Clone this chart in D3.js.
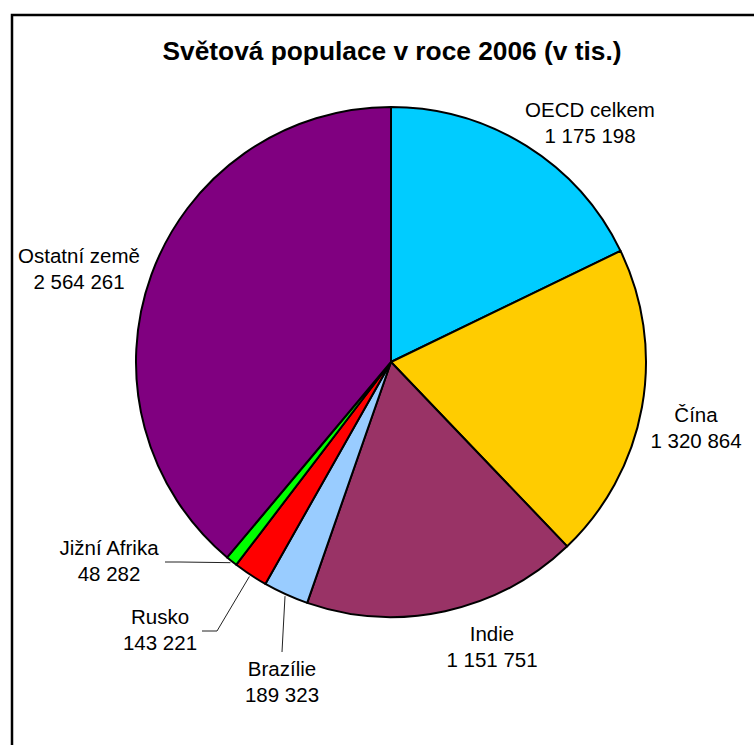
<!DOCTYPE html>
<html>
<head>
<meta charset="utf-8">
<script src="https://cdn.jsdelivr.net/npm/d3@7"></script>
<style>
  body { margin: 0; background: #fff; }
  svg { display: block; font-family: Arial, "Liberation Sans", sans-serif; }
</style>
</head>
<body>
<div id="viz"></div>
<script>
'use strict';

const width = 754;
const height = 745;

// data, clockwise from 12 o'clock
const names = ["OECD celkem", "Čína", "Indie", "Brazílie", "Rusko", "Jižní Afrika", "Ostatní země"];
const values = [1175198, 1320864, 1151751, 189323, 143221, 48282, 2564261];
const colors = ["#00ccff", "#ffcc00", "#993366", "#99ccff", "#ff0000", "#00ff00", "#800080"];
const title = "Světová populace v roce 2006 (v tis.)";

// label placement (centre x, first baseline y) and leader style per slice
const labelPos = {
    "OECD celkem": [590, 117],
    "Čína": [696, 422],
    "Indie": [492, 641],
    "Brazílie": [282, 676],
    "Rusko": [160, 624],
    "Jižní Afrika": [109, 555],
    "Ostatní země": [79, 263]
};
const leaders = { "Brazílie": "up", "Rusko": "side", "Jižní Afrika": "side" };

const cx = 391, cy = 362, radius = 255;
const lineGap = 26;

const fmt = v => d3.format(",")(v).replace(/,/g, " ");

const svg = d3.select("#viz")
    .append("svg")
    .attr("width", width)
    .attr("height", height);

svg.append("rect")
    .attr("width", width)
    .attr("height", height)
    .attr("fill", "#fff");

// chart frame (runs off the right and bottom edges)
svg.append("path")
    .attr("d", `M12,${height + 5} V15 H${width + 5}`)
    .attr("fill", "none")
    .attr("stroke", "#000")
    .attr("stroke-width", 2.5);

svg.append("text")
    .attr("x", 392)
    .attr("y", 60)
    .attr("text-anchor", "middle")
    .attr("font-size", 26.3)
    .attr("font-weight", "bold")
    .text(title);

const slices = names.map((n, i) => ({ name: n, value: values[i], color: colors[i] }));

const pie = d3.pie()
    .sort(null)
    .value(d => d.value);

const arc = d3.arc()
    .innerRadius(0)
    .outerRadius(radius);

const arcs = pie(slices);

const g = svg.append("g")
    .attr("transform", `translate(${cx},${cy})`);

g.selectAll("path")
    .data(arcs)
    .enter()
    .append("path")
    .attr("d", arc)
    .attr("fill", d => d.data.color)
    .attr("stroke", "#000")
    .attr("stroke-width", 2)
    .attr("stroke-linejoin", "round");

// leader lines for the thin slices
arcs.forEach(d => {
    const kind = leaders[d.data.name];
    if (!kind) return;
    const mid = (d.startAngle + d.endAngle) / 2;
    const ex = cx + (radius + 2) * Math.sin(mid);
    const ey = cy - (radius + 2) * Math.cos(mid);
    const [lx, ly] = labelPos[d.data.name];
    let pts;
    if (kind === "side") {
        const sx = lx + (d.data.name === "Rusko" ? 42 : 56);
        const sy = ly + 7;
        pts = [[sx, sy], [sx + 15, sy], [ex, ey]];
    } else {
        const sx = lx;
        const sy = ly - 24;
        pts = [[sx, sy], [sx + 1, sy - 19], [ex, ey]];
    }
    svg.append("path")
        .attr("d", d3.line()(pts))
        .attr("fill", "none")
        .attr("stroke", "#222")
        .attr("stroke-width", 1);
});

const labels = svg.append("g")
    .attr("font-size", 20.5)
    .attr("fill", "#000")
    .attr("text-anchor", "middle");

arcs.forEach(d => {
    const [lx, ly] = labelPos[d.data.name];
    const t = labels.append("text")
        .attr("x", lx)
        .attr("y", ly);
    t.append("tspan").attr("x", lx).text(d.data.name);
    t.append("tspan").attr("x", lx).attr("dy", lineGap).text(fmt(d.data.value));
});
</script>
</body>
</html>
